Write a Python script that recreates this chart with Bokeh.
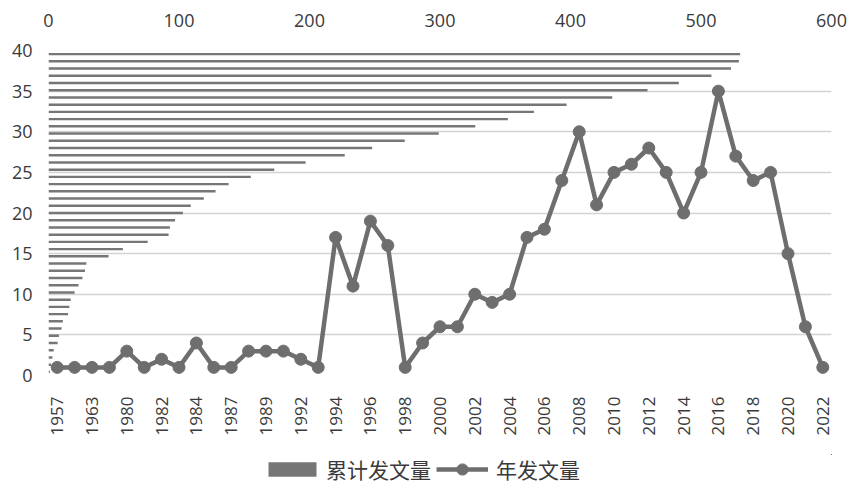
import math
from bokeh.plotting import figure
from bokeh.layouts import column
from bokeh.models import (Range1d, LinearAxis, FixedTicker, Legend, LegendItem,
                          ColumnDataSource)
from bokeh.embed import file_html
from bokeh.resources import INLINE

# ---- data ----
years = ["1957", "1958", "1963", "1979", "1980", "1981", "1982", "1983", "1984",
         "1985", "1987", "1988", "1989", "1990", "1992", "1993", "1994", "1995",
         "1996", "1997", "1998", "1999", "2000", "2001", "2002", "2003", "2004",
         "2005", "2006", "2007", "2008", "2009", "2010", "2011", "2012", "2013",
         "2014", "2015", "2016", "2017", "2018", "2019", "2020", "2021", "2022"]
annual = [1, 1, 1, 1, 3, 1, 2, 1, 4, 1, 1, 3, 3, 3, 2, 1, 17, 11, 19, 16, 1, 4,
          6, 6, 10, 9, 10, 17, 18, 24, 30, 21, 25, 26, 28, 25, 20, 25, 35, 27,
          24, 25, 15, 6, 1]
cumulative = [1, 2, 3, 4, 7, 8, 10, 11, 15, 16, 17, 20, 23, 26, 28, 29, 46, 57,
              76, 92, 93, 97, 103, 109, 119, 128, 138, 155, 173, 197, 227, 248,
              273, 299, 327, 352, 372, 397, 432, 459, 483, 508, 523, 529, 530]
left_ticks = [0, 5, 10, 15, 20, 25, 30, 35, 40]
top_ticks = [0, 100, 200, 300, 400, 500, 600]
series_names = ["累计发文量", "年发文量"]

idx = list(range(len(years)))
src = ColumnDataSource(dict(i=idx, annual=annual, cum=cumulative, year=years))

TEXT = "#3a3a3a"
GRID = "#d3d3d3"
BAR = "#767676"
LINE = "#6e6e6e"
FONT = "Open Sans"

p = figure(width=847, height=454, output_backend="svg", toolbar_location=None,
           x_range=Range1d(-0.5, len(years) - 0.5), y_range=Range1d(0, 40),
           min_border_left=48, min_border_right=16, min_border_top=50,
           min_border_bottom=79)
p.outline_line_color = None
p.background_fill_color = "white"
p.border_fill_color = "white"

p.extra_x_ranges = {"top": Range1d(0, 600)}
p.extra_y_ranges = {"cat": Range1d(-0.5, len(years) - 0.5)}

# grid
p.xgrid.visible = False
p.ygrid.ticker = FixedTicker(ticks=left_ticks)
p.ygrid.grid_line_color = GRID
p.ygrid.grid_line_width = 1.3

# left axis
p.yaxis.ticker = FixedTicker(ticks=left_ticks)
p.yaxis.axis_line_color = None
p.yaxis.major_tick_line_color = None
p.yaxis.minor_tick_line_color = None
p.yaxis.major_label_standoff = 10
p.yaxis.major_label_text_font = FONT
p.yaxis.major_label_text_font_size = "18px"
p.yaxis.major_label_text_color = TEXT

# bottom axis (categories)
p.xaxis.ticker = FixedTicker(ticks=idx[::2])
p.xaxis.major_label_overrides = {i: years[i] for i in idx[::2]}
p.xaxis.major_label_orientation = math.pi / 2
p.xaxis.axis_line_color = None
p.xaxis.major_tick_line_color = None
p.xaxis.minor_tick_line_color = None
p.xaxis.major_label_standoff = 15
p.xaxis.major_label_text_font = FONT
p.xaxis.major_label_text_font_size = "17px"
p.xaxis.major_label_text_color = TEXT

# top axis for cumulative values
top_axis = LinearAxis(x_range_name="top", ticker=FixedTicker(ticks=top_ticks))
top_axis.axis_line_color = None
top_axis.major_tick_line_color = None
top_axis.minor_tick_line_color = None
top_axis.major_label_standoff = 18
top_axis.major_label_text_font = FONT
top_axis.major_label_text_font_size = "18px"
top_axis.major_label_text_color = TEXT
p.add_layout(top_axis, "above")

# cumulative horizontal bars
bars = p.hbar(y="i", left=0, right="cum", height=0.34, source=src,
              x_range_name="top", y_range_name="cat",
              fill_color=BAR, line_color=None)

# annual line with markers
line_r = p.line(x="i", y="annual", source=src, line_color=LINE, line_width=4.5,
                line_join="round")
pts = p.scatter(x="i", y="annual", source=src, size=12, marker="circle",
                fill_color=LINE, line_color=LINE)

# ---- legend strip (separate small figure below the chart) ----
# legend proxies reuse the data, but the ranges keep them out of view
leg = figure(width=847, height=30, output_backend="svg", toolbar_location=None,
             x_range=Range1d(-1000, -999), y_range=Range1d(-1000, -999),
             min_border=0, min_border_left=0, min_border_right=0,
             min_border_top=0, min_border_bottom=0,
             x_axis_location=None, y_axis_location=None)
leg.outline_line_color = None
leg.grid.visible = False
leg.background_fill_color = "white"
leg.border_fill_color = "white"
leg_bar = leg.hbar(y="i", left=0, right="cum", height=0.3, source=src,
                   fill_color=BAR, line_color=None)
leg_line = leg.line(x="i", y="annual", source=src, line_color=LINE,
                    line_width=4.5)
leg_pts = leg.scatter(x="i", y="annual", source=src, size=12,
                      marker="circle", fill_color=LINE, line_color=LINE)

common = dict(orientation="horizontal", padding=0, margin=0,
              border_line_color=None, background_fill_alpha=0,
              label_text_font="Noto Sans CJK SC", label_text_font_size="21px",
              label_text_color=TEXT, label_height=30)
legA = Legend(items=[LegendItem(label=series_names[0], renderers=[leg_bar])],
              location=(214, 0), glyph_width=60, glyph_height=18,
              label_standoff=4, **common)
legB = Legend(items=[LegendItem(label=series_names[1],
                                renderers=[leg_line, leg_pts])],
              location=(388, 0), glyph_width=52, glyph_height=28,
              label_standoff=8, **common)
leg.add_layout(legA, "center")
leg.add_layout(legB, "center")

layout = column(p, leg, spacing=0)
open("out.html", "w").write(file_html(layout, INLINE))
